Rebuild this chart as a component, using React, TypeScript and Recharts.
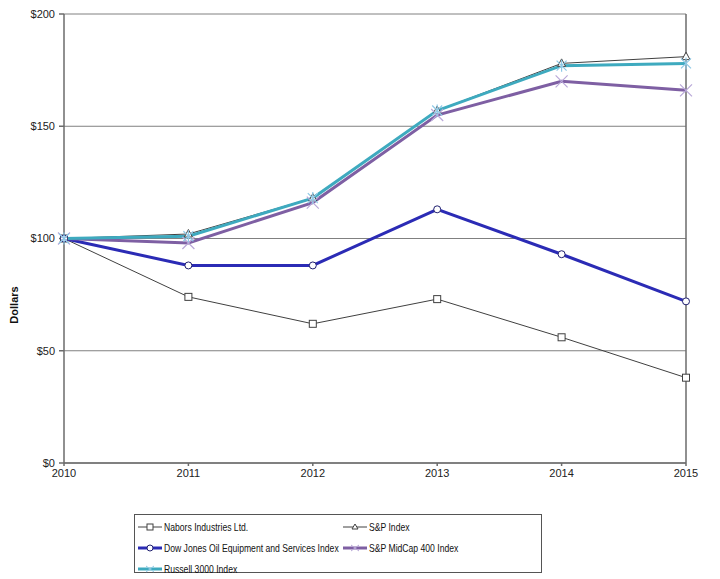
import React from "react";
import { LineChart, Line, XAxis, YAxis, CartesianGrid, ReferenceLine } from "recharts";

const years = ["2010", "2011", "2012", "2013", "2014", "2015"];
const nabors = [100, 74, 62, 73, 56, 38];
const sp = [100, 102, 118, 157, 178, 181];
const dowJones = [100, 88, 88, 113, 93, 72];
const midCap = [100, 98, 116, 155, 170, 166];
const russell = [100, 101, 118, 157, 177, 178];
const yTicks = [0, 50, 100, 150, 200];

const data = years.map((y, i) => ({
  year: y,
  nabors: nabors[i],
  sp: sp[i],
  dow: dowJones[i],
  mid: midCap[i],
  russell: russell[i],
}));

const FONT = "'Liberation Sans', Arial, sans-serif";

const SquareDot = (p: any) => (
  <rect key={p.index} x={p.cx - 3.5} y={p.cy - 3.5} width={7} height={7} fill="#fff" stroke="#404040" strokeWidth={1} />
);
const TriDot = (p: any) => (
  <path key={p.index} d={`M${p.cx},${p.cy - 4.5} L${p.cx + 4},${p.cy + 3} L${p.cx - 4},${p.cy + 3} Z`} fill="#fff" stroke="#404040" strokeWidth={1} />
);
const CircleDot = (p: any) => (
  <circle key={p.index} cx={p.cx} cy={p.cy} r={3.5} fill="#fff" stroke="#1f1f6f" strokeWidth={1} />
);
const XDot = (p: any) => (
  <path key={p.index} d={`M${p.cx - 6},${p.cy - 6} L${p.cx + 6},${p.cy + 6} M${p.cx - 6},${p.cy + 6} L${p.cx + 6},${p.cy - 6}`} stroke="#b9a8d8" strokeWidth={1.2} fill="none" />
);
const StarDot = (p: any) => (
  <path key={p.index} d={`M${p.cx - 5},${p.cy - 5} L${p.cx + 5},${p.cy + 5} M${p.cx - 5},${p.cy + 5} L${p.cx + 5},${p.cy - 5} M${p.cx},${p.cy - 6} L${p.cx},${p.cy + 6}`} stroke="#8fc9e6" strokeWidth={1.2} fill="none" />
);

const legendItems = [
  { name: "Nabors Industries Ltd.", color: "#404040", w: 1, marker: "square" },
  { name: "S&P Index", color: "#404040", w: 1, marker: "tri" },
  { name: "Dow Jones Oil Equipment and Services Index", color: "#2b2bb5", w: 3, marker: "circle" },
  { name: "S&P MidCap 400 Index", color: "#7e5fa3", w: 3, marker: "x" },
  { name: "Russell 3000 Index", color: "#3eaabf", w: 3, marker: "star" },
];

const LegendIcon = ({ item }: any) => {
  const cx = 12, cy = 5;
  let m: any = null;
  if (item.marker === "square") m = <rect x={cx - 3} y={cy - 3} width={6} height={6} fill="#fff" stroke="#404040" />;
  if (item.marker === "tri") m = <path d={`M${cx},${cy - 3} L${cx + 3},${cy + 2} L${cx - 3},${cy + 2} Z`} fill="#fff" stroke="#404040" />;
  if (item.marker === "circle") m = <circle cx={cx} cy={cy} r={3} fill="#fff" stroke="#1f1f6f" />;
  if (item.marker === "x") m = <path d={`M${cx - 4},${cy - 3} L${cx + 4},${cy + 3} M${cx - 4},${cy + 3} L${cx + 4},${cy - 3}`} stroke="#b9a8d8" />;
  if (item.marker === "star") m = <path d={`M${cx - 4},${cy - 3} L${cx + 4},${cy + 3} M${cx - 4},${cy + 3} L${cx + 4},${cy - 3}`} stroke="#8fc9e6" />;
  return (
    <svg width={25} height={10} style={{ marginRight: 1, flex: "none" }}>
      <line x1={0} y1={cy} x2={24} y2={cy} stroke={item.color} strokeWidth={item.w} />
      {m}
    </svg>
  );
};

export default function App() {
  return (
    <div style={{ position: "absolute", left: 0, top: 0, width: 720, height: 579, background: "#fff", fontFamily: FONT }}>
      <LineChart width={720} height={490} data={data} margin={{ top: 14, right: 34, bottom: 7, left: 0 }}>
        <CartesianGrid horizontal={true} vertical={false} stroke="#808080" strokeWidth={1} />
        <XAxis
          dataKey="year"
          height={20}
          stroke="#6b6b6b"
          strokeWidth={1.5}
          tickSize={3}
          tick={{ fontSize: 11, fill: "#222", fontFamily: FONT }}
          tickMargin={3}
          interval={0}
        />
        <YAxis
          width={64}
          domain={[0, 200]}
          ticks={yTicks}
          stroke="#6b6b6b"
          strokeWidth={1.5}
          tickSize={5}
          tickMargin={4}
          tick={{ fontSize: 11, fill: "#222", fontFamily: FONT }}
          tickFormatter={(v: number) => `$${v}`}
          label={{
            content: () => (
              <text x={18} y={305} transform="rotate(-90 18 305)" textAnchor="middle" fontSize={11} fontWeight="bold" fontFamily={FONT} fill="#111">
                Dollars
              </text>
            ),
          }}
        />
        <ReferenceLine x="2015" stroke="#6b6b6b" strokeWidth={1.5} />
        <Line dataKey="nabors" stroke="#404040" strokeWidth={1} dot={SquareDot} isAnimationActive={false} />
        <Line dataKey="sp" stroke="#404040" strokeWidth={1} dot={TriDot} isAnimationActive={false} />
        <Line dataKey="dow" stroke="#2b2bb5" strokeWidth={3} dot={CircleDot} isAnimationActive={false} />
        <Line dataKey="mid" stroke="#7e5fa3" strokeWidth={3} dot={XDot} isAnimationActive={false} />
        <Line dataKey="russell" stroke="#3eaabf" strokeWidth={3} dot={StarDot} isAnimationActive={false} />
      </LineChart>
      <div
        style={{
          position: "absolute",
          left: 134,
          top: 514,
          width: 408,
          height: 59,
          border: "1px solid #555",
          boxSizing: "border-box",
          fontSize: 10.5,
          color: "#111",
          display: "grid",
          gridTemplateColumns: "205px 200px",
          gridAutoRows: "21px",
          paddingTop: 1,
          paddingLeft: 3,
        }}
      >
        {legendItems.map((it) => (
          <div key={it.name} style={{ display: "flex", alignItems: "center", whiteSpace: "nowrap" }}>
            <LegendIcon item={it} />
            <span style={{ display: "inline-block", transform: "scaleX(0.82)", transformOrigin: "left center" }}>{it.name}</span>
          </div>
        ))}
      </div>
    </div>
  );
}
